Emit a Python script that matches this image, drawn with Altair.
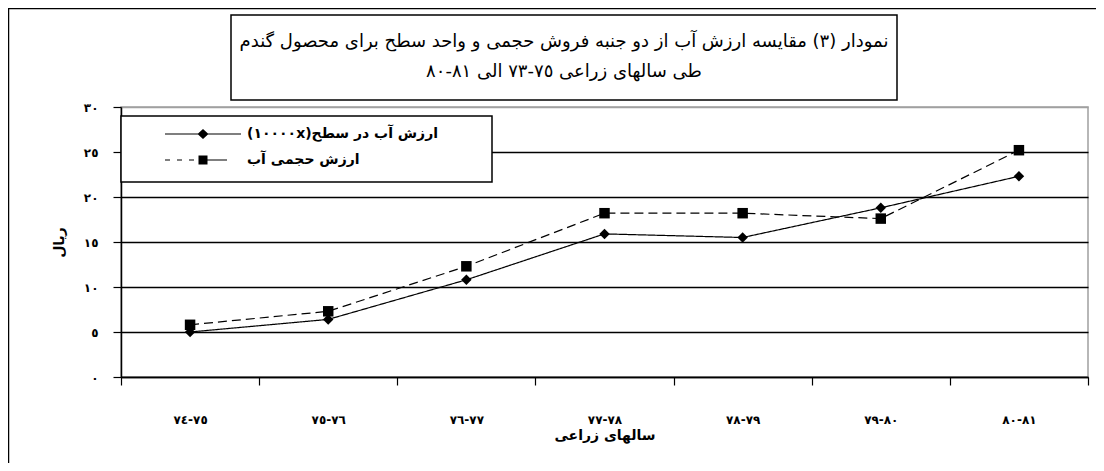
import altair as alt
import pandas as pd

# ---------------- data ----------------
categories = ["٧٤-٧٥", "٧٥-٧٦", "٧٦-٧٧", "٧٧-٧٨", "٧٨-٧٩", "٧٩-٨٠", "٨٠-٨١"]
series_area = "ارزش آب در سطح(١٠٠٠٠x)"
series_volume = "ارزش حجمی آب"
area_values = [5.0, 6.4, 10.8, 15.9, 15.5, 18.8, 22.3]
volume_values = [5.8, 7.3, 12.3, 18.2, 18.2, 17.6, 25.2]
y_ticks = [0, 5, 10, 15, 20, 25, 30]
y_tick_labels = ["٠", "٥", "١٠", "١٥", "٢٠", "٢٥", "٣٠"]
title_line1 = "نمودار (٣) مقایسه ارزش آب از دو جنبه فروش حجمی و واحد سطح برای محصول گندم"
title_line2 = "طی سالهای زراعی ٧٥-٧٣ الی ٨١-٨٠"
x_title = "سالهای زراعی"
y_title = "ریال"

RLE, PDF, LRM = "\u202b", "\u202c", "\u200e"
FONT = "DejaVu Sans"
W, H = 967, 270

df = pd.DataFrame({
    "year": categories * 2,
    "series": [series_area] * len(categories) + [series_volume] * len(categories),
    "value": area_values + volume_values,
})
one = pd.DataFrame({"k": [0]})

y_label_expr = (
    "[" + ",".join("'" + s + "'" for s in y_tick_labels) + "]"
    + "[indexof([" + ",".join(str(v) for v in y_ticks) + "], datum.value)]"
)

x_enc = alt.X(
    "year:N",
    sort=categories,
    scale=alt.Scale(type="band", paddingInner=0, paddingOuter=0),
    axis=alt.Axis(
        title=x_title, labelAngle=0, tickBand="extent", tickSize=8,
        labelPadding=29, labelFontSize=12, labelFontWeight="bold", grid=False,
        labelExpr=f"replace(datum.label, '-', '{LRM}-{LRM}')",
        titleFontSize=14, titleFontWeight="bold", titlePadding=3,
    ),
)
y_enc = alt.Y(
    "value:Q",
    scale=alt.Scale(domain=[0, 30], nice=False, zero=True),
    axis=alt.Axis(
        title=y_title, values=y_ticks, tickSize=8, labelPadding=15,
        labelFontSize=12, labelFontWeight="bold", labelExpr=y_label_expr,
        grid=True, gridWidth=1.3,
        gridColor=alt.condition("datum.value == 30", alt.value("#a0a0a0"), alt.value("black")),
        titleFontSize=14, titleFontWeight="bold",
        titleX=-62, titleY=135, titleAngle=270, titleAlign="center", titleBaseline="middle",
    ),
)

# legend symbols: line + marker, built as filled outlines
# (second entry dashed on the left, solid on the right, as in the reference)
diamond_entry = "M-3.8,-0.06H3.8V0.06H-3.8ZM-0.55,0L0,-0.5L0.55,0L0,0.5Z"
square_entry = ("M-3.8,-0.06H-3.3V0.06H-3.8Z"
                "M-2.6,-0.06H-2.1V0.06H-2.6Z"
                "M-1.4,-0.06H-0.9V0.06H-1.4Z"
                "M-0.45,-0.45H0.45V0.45H-0.45Z"
                "M0.45,-0.06H2.4V0.06H0.45Z")
series_domain = [series_area, series_volume]

lines = alt.Chart(df).mark_line(color="black", strokeWidth=1.2).encode(
    x=x_enc, y=y_enc,
    strokeDash=alt.StrokeDash(
        "series:N",
        scale=alt.Scale(domain=series_domain, range=[[1, 0], [9, 5]]),
        legend=None,
    ),
)

points = alt.Chart(df).mark_point(filled=True, color="black", size=110, opacity=1).encode(
    x=x_enc, y=y_enc,
    shape=alt.Shape(
        "series:N",
        scale=alt.Scale(domain=series_domain, range=["diamond", "square"]),
        legend=None,
    ),
)

legend_layer = alt.Chart(df).transform_filter("false").mark_point(
    filled=True, color="black", opacity=1
).encode(
    x=x_enc, y=y_enc,
    shape=alt.Shape(
        "series:N",
        scale=alt.Scale(domain=series_domain, range=[diamond_entry, square_entry]),
        legend=alt.Legend(
            title=None, orient="none", legendX=72, legendY=17, padding=0,
            symbolSize=400, symbolStrokeWidth=0, symbolFillColor="black", symbolOpacity=1,
            labelFont=FONT, labelFontSize=14, labelFontWeight="bold",
            labelOffset=34, rowPadding=9, labelLimit=400, labelColor="black",
            labelExpr=f"'{RLE}' + datum.label + '{PDF}'",
        ),
    ),
)

frame_top = alt.Chart(one).mark_rule(color="black", strokeWidth=1.5).encode(
    x=alt.value(-113), x2=alt.value(975), y=alt.value(-98.5))
frame_left = alt.Chart(one).mark_rule(color="black", strokeWidth=1.5).encode(
    x=alt.value(-112.5), y=alt.value(-99), y2=alt.value(356))
title_box = alt.Chart(one).mark_rect(fill="white", stroke="black", strokeWidth=1.5).encode(
    x=alt.value(110), x2=alt.value(776), y=alt.value(-92), y2=alt.value(-7))
title1 = alt.Chart(one).mark_text(font=FONT, fontSize=18, color="black", align="center", baseline="middle").encode(
    x=alt.value(443), y=alt.value(-65), text=alt.value(title_line1))
title2 = alt.Chart(one).mark_text(font=FONT, fontSize=18, color="black", align="center", baseline="middle").encode(
    x=alt.value(443), y=alt.value(-35), text=alt.value(title_line2))
legend_box = alt.Chart(one).mark_rect(fill="white", stroke="black", strokeWidth=1.5).encode(
    x=alt.value(0), x2=alt.value(371), y=alt.value(9), y2=alt.value(75))

chart = alt.layer(
    frame_top, frame_left, title_box, title1, title2, legend_box, lines, points, legend_layer
).resolve_scale(
    shape="independent"
).properties(
    width=W, height=H,
    autosize=alt.AutoSizeParams(type="none"),
    padding={"left": 113, "top": 99, "right": 8, "bottom": 94},
    background="white",
).configure_view(
    stroke="#a0a0a0", strokeWidth=1.5
).configure_axis(
    domainColor="black", domainWidth=1.5, tickColor="black", tickWidth=1.2,
    labelColor="black", titleColor="black", labelFont=FONT, titleFont=FONT,
)

chart.save("out.html", embed_options={"renderer": "svg", "actions": False})
